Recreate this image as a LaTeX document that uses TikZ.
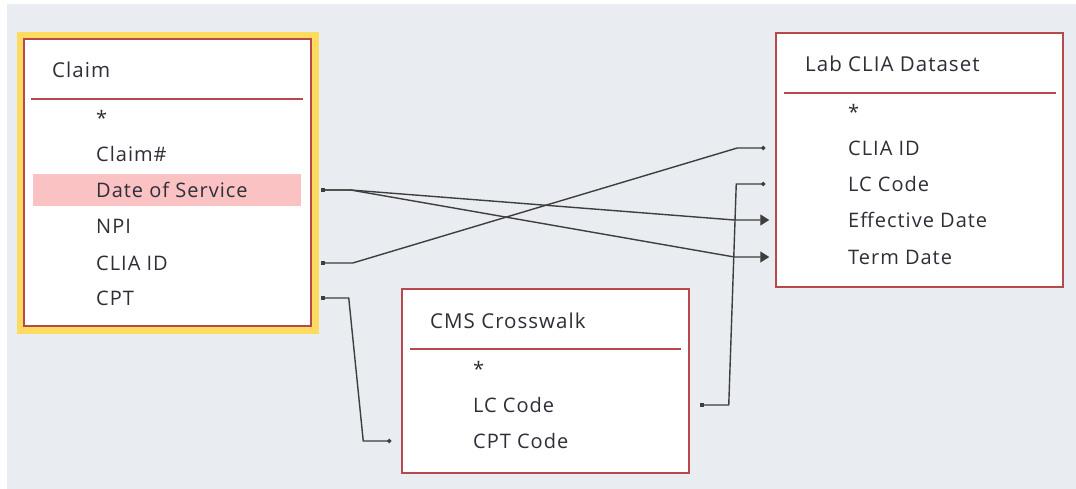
\documentclass[tikz,border=0pt]{standalone}
\usepackage{fontspec}
\setmainfont{Open Sans}
\newfontfamily\tabfont{Open Sans}[LetterSpace=5]
\usetikzlibrary{arrows.meta}
\definecolor{canvas}{HTML}{E9ECF0}
\definecolor{frame}{HTML}{B8484E}
\definecolor{focus}{HTML}{FDDB5E}
\definecolor{pick}{HTML}{FBC2C3}
\definecolor{ink}{HTML}{2E2E38}
\definecolor{wire}{HTML}{3E3E3E}
\tikzset{
  tablebox/.style={draw=frame, line width=1.5pt, fill=white, inner sep=0pt},
  sepline/.style={draw=frame, line width=1.5pt},
  title/.style={anchor=west, inner sep=0pt, text=ink, font=\tabfont\fontsize{20.5}{24}\selectfont, text height=14.6pt, text depth=0pt},
  field/.style={anchor=west, inner sep=0pt, text=ink, font=\tabfont\fontsize{20}{24}\selectfont, text height=14.3pt, text depth=0pt},
  conn/.style={draw=wire, line width=1.4pt},
  onemany/.style={conn, {Square[length=4pt,width=4pt]}-{Triangle[length=9pt,width=11pt]}},
  oneone/.style={conn, {Square[length=4pt,width=4pt]}-{Circle[length=4pt]}},
}
\begin{document}
\begin{tikzpicture}[x=1pt,y=-1pt]
\useasboundingbox (0,0) rectangle (1076,489);
\fill[white] (0,0) rectangle (1076,489);
\fill[canvas] (7,4) rectangle (1076,489);

% Claim table (selected)
\fill[focus] (17,32) rectangle (319,334);
\node[tablebox, minimum width=287pt, minimum height=287pt] (claim) at (167.5,182.5) {};
\fill[pick] (33,174) rectangle (301,206);
\node[title] (claimT) at (52,70) {Claim};
\draw[sepline] (31,99) -- (303,99);
\node[field] (claimStar) at (96,118) {*};
\node[field] (claimNo) at (96,154) {Claim\#};
\node[field] (claimDos) at (96,190) {Date of Service};
\node[field] (claimNpi) at (96,226) {NPI};
\node[field] (claimClia) at (96,263) {CLIA ID};
\node[field] (claimCpt) at (96,298) {CPT};

% Lab CLIA Dataset table
\node[tablebox, minimum width=287pt, minimum height=254pt] (lab) at (919.5,160) {};
\node[title] (labT) at (805,64) {Lab CLIA Dataset};
\draw[sepline] (784,93) -- (1056,93);
\node[field] (labStar) at (848,112) {*};
\node[field] (labClia) at (848,148) {CLIA ID};
\node[field] (labLc) at (848,184) {LC Code};
\node[field] (labEff) at (848,220) {Effective Date};
\node[field] (labTerm) at (848,257) {Term Date};

% CMS Crosswalk table
\node[tablebox, minimum width=287pt, minimum height=184pt] (cms) at (545.5,381) {};
\node[title] (cmsT) at (430,321) {CMS Crosswalk};
\draw[sepline] (410,349) -- (681,349);
\node[field] (cmsStar) at (473,369) {*};
\node[field] (cmsLc) at (473,405) {LC Code};
\node[field] (cmsCpt) at (473,441) {CPT Code};

% connector ports beside the tables
\coordinate (pDos) at ([xshift=9pt]claim.east |- claimDos.west);
\coordinate (pClia) at ([xshift=9pt]claim.east |- claimClia.west);
\coordinate (pCpt) at ([xshift=9pt]claim.east |- claimCpt.west);
\coordinate (pLabClia) at ([xshift=-10pt]lab.west |- labClia.west);
\coordinate (pLabLc) at ([xshift=-10pt]lab.west |- labLc.west);
\coordinate (pLabEff) at ([xshift=-6pt]lab.west |- labEff.west);
\coordinate (pLabTerm) at ([xshift=-6pt]lab.west |- labTerm.west);
\coordinate (pCmsLc) at ([xshift=10pt]cms.east |- cmsLc.west);
\coordinate (pCmsCpt) at ([xshift=-10pt]cms.west |- cmsCpt.west);

% relationships
\draw[onemany] (pDos) -- ++(30,0) -- ([xshift=-35pt]pLabTerm) -- (pLabTerm);
\draw[onemany] (pDos) -- ++(30,0) -- ([xshift=-35pt]pLabEff) -- (pLabEff);
\draw[oneone] (pClia) -- ++(32,0) -- ([xshift=-28pt]pLabClia) -- (pLabClia);
\draw[oneone] (pCpt) -- ++(28,0) -- ([xshift=-28pt]pCmsCpt) -- (pCmsCpt);
\draw[oneone] (pCmsLc) -- ++(29,0) -- ([xshift=-29pt]pLabLc) -- (pLabLc);
\end{tikzpicture}
\end{document}
